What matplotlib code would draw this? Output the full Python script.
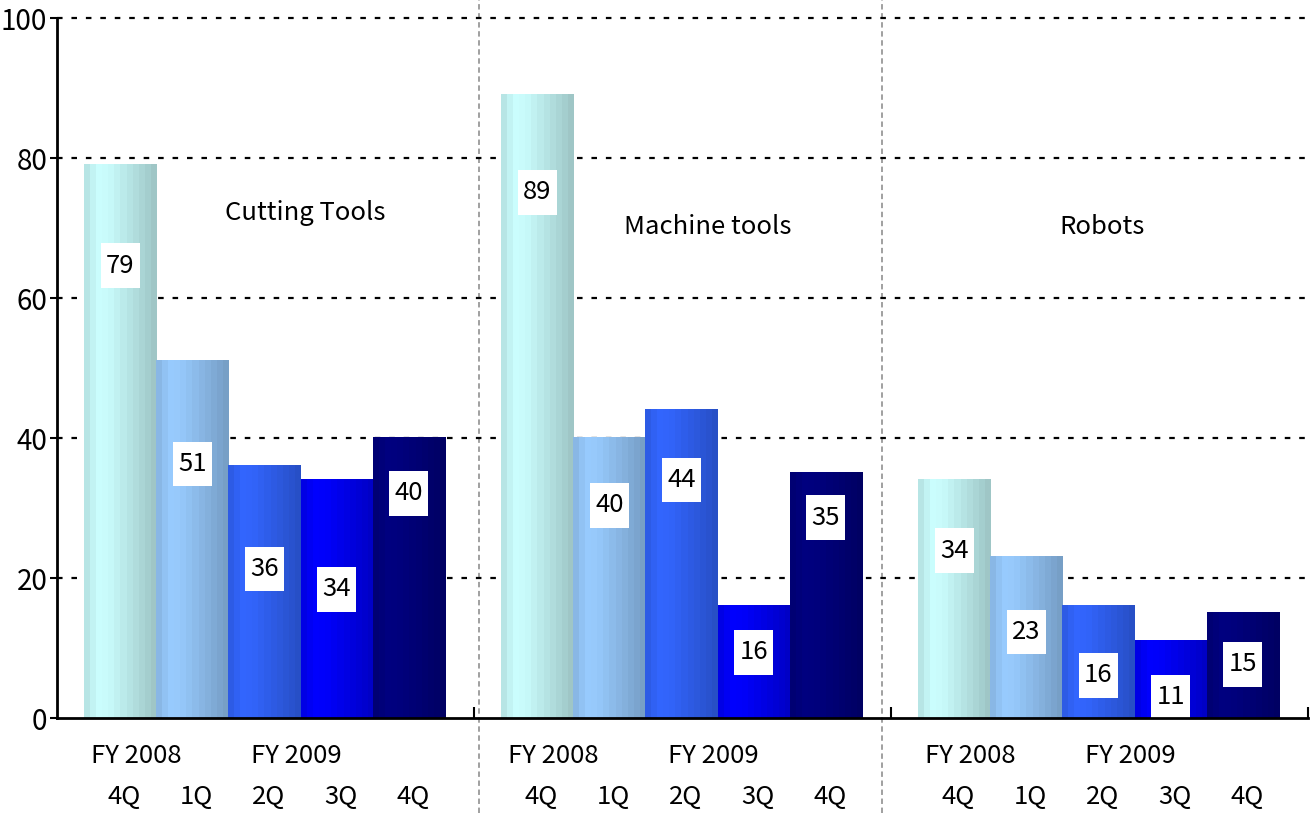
import numpy as np
import matplotlib.pyplot as plt
from matplotlib.colors import to_rgb
from matplotlib.patches import Rectangle

plt.rcParams['font.family'] = ['Noto Sans CJK JP', 'DejaVu Sans']

# Data
segments = ["Cutting Tools", "Machine tools", "Robots"]
quarters = ["4Q", "1Q", "2Q", "3Q", "4Q"]
cutting_tools = [79, 51, 36, 34, 40]
machine_tools = [89, 40, 44, 16, 35]
robots = [34, 23, 16, 11, 15]
values = [cutting_tools, machine_tools, robots]

# where the value boxes sit (y of box centre)
label_y = [[64.6, 36.3, 21.3, 18.4, 32.1],
           [75.1, 30.4, 34.0, 9.4, 28.6],
           [23.9, 12.3, 6.1, 3.0, 7.7]]
title_pos = [(0.595, 72.1), (0.56, 70.1), (0.505, 70.1)]

bar_colors = ["#CCFFFF", "#99CCFF", "#3366FF", "#0000FF", "#000080"]

fig = plt.figure(figsize=(13.11, 8.13), dpi=100)
ax = fig.add_axes([57 / 1311, 95 / 813, 1251 / 1311, 700 / 813])

w = 0.173
fs = 18.5

# horizontal brightness profile for the shaded bars (banded)
t = np.linspace(0, 1, 12)
shade = np.interp(t, [0, 0.12, 0.2, 0.38, 1.0], [0.9, 0.97, 1.0, 0.97, 0.78])

for g, seg in enumerate(values):
    for i, v in enumerate(seg):
        xc = g + 0.4976 + (i - 2) * w
        base = np.array(to_rgb(bar_colors[i]))
        img = (shade[:, None] * base[None, :])[None, :, :]
        ax.imshow(img, extent=(xc - w / 2, xc + w / 2, 0, v), aspect='auto',
                  interpolation='nearest', zorder=2)
        # white value box
        bw, bh = 0.0935, 6.4
        ax.add_patch(Rectangle((xc - bw / 2, label_y[g][i] - bh / 2), bw, bh,
                               facecolor='white', edgecolor='none', zorder=3))
        ax.text(xc, label_y[g][i], str(v), ha='center', va='center',
                fontsize=fs, zorder=4)
        ax.text(xc + 0.01, -11.3, quarters[i], ha='center', va='center',
                fontsize=fs, clip_on=False)
    ax.text(g + 0.19, -5.4, "FY 2008", ha='center', va='center', fontsize=fs)
    ax.text(g + 0.575, -5.4, "FY 2009", ha='center', va='center', fontsize=fs)
    ax.text(g + title_pos[g][0], title_pos[g][1], segments[g],
            ha='center', va='center', fontsize=fs)

ax.set_xlim(0, 3)
ax.set_ylim(0, 100)

# dotted grid
for y in range(20, 101, 20):
    ax.axhline(y, color='black', lw=1.6, ls=(0, (2.5, 4)), zorder=1,
               clip_on=False)

# segment separators
for xs in [1.012, 1.978]:
    ax.plot([xs, xs], [-13.6, 102.6], color='#999999', lw=1.3,
            ls=(0, (3, 2)), clip_on=False, zorder=0)

for s in ['top', 'right']:
    ax.spines[s].set_visible(False)
ax.spines['left'].set_linewidth(2)
ax.spines['bottom'].set_linewidth(2)
ax.spines['left'].set_zorder(5)
ax.spines['bottom'].set_zorder(5)

ax.set_yticks(range(0, 101, 20))
ax.tick_params(axis='y', length=5, width=1.5, labelsize=20, pad=2)
ax.set_xticks([1, 2, 3])
ax.set_xticklabels([])
ax.tick_params(axis='x', direction='in', length=8, width=1.5)

fig.savefig("out.png", dpi=100)
